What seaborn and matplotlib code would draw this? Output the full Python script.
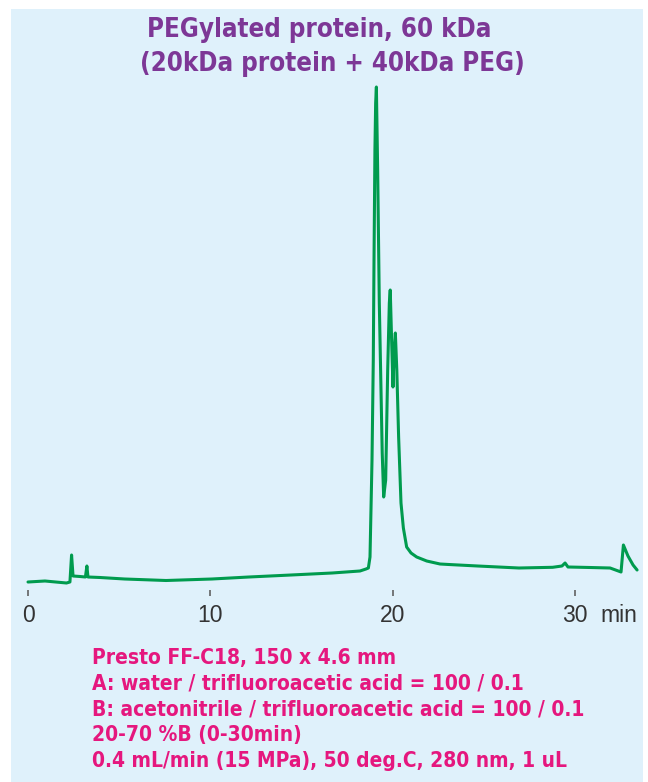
import matplotlib
matplotlib.use('Agg')
import matplotlib.pyplot as plt
import matplotlib.patches as mpatches
import pandas as pd
import seaborn as sns

# Tiempo de retencion (min) y senal del detector (unidades arbitrarias)
tiempo = [0.00, 0.93, 2.11, 2.30, 2.39, 2.47, 2.85, 3.15, 3.23, 3.29,
          3.95, 5.30, 7.57, 10.09, 12.12, 14.43, 16.68, 18.21, 18.54, 18.67,
          18.76, 18.87, 18.94, 18.98, 19.03, 19.07, 19.11, 19.18, 19.27, 19.36,
          19.43, 19.51, 19.62, 19.73, 19.82, 19.87, 19.95, 20.02, 20.08, 20.15,
          20.23, 20.33, 20.46, 20.59, 20.77, 21.01, 21.32, 21.87, 22.60, 23.08,
          24.67, 26.93, 28.78, 29.29, 29.46, 29.62, 30.83, 31.93, 32.53, 32.66,
          32.91, 33.19, 33.41]
senal = [8, 9, 7, 8, 35, 14, 13.5, 13, 24, 13,
         12.5, 11, 9.5, 11, 13, 15, 17, 19, 21, 22,
         33, 130, 230, 330, 440, 487, 503, 420, 287, 203,
         137, 93, 110, 220, 287, 300, 247, 203, 237, 257,
         220, 153, 87, 62, 43, 37, 33, 29, 26, 25.5,
         24, 22, 22.7, 24, 27, 23, 22.5, 22, 18, 45,
         34, 25, 20]

ticks_x = [0, 10, 20, 30]
titulo = ['PEGylated protein, 60 kDa', '(20kDa protein + 40kDa PEG)']
condiciones = ['Presto FF-C18, 150 x 4.6 mm',
               'A: water / trifluoroacetic acid = 100 / 0.1',
               'B: acetonitrile / trifluoroacetic acid = 100 / 0.1',
               '20-70 %B (0-30min)',
               '0.4 mL/min (15 MPa), 50 deg.C, 280 nm, 1 uL']

sns.set_theme(style='white')
plt.rcParams['font.family'] = ['Liberation Sans', 'DejaVu Sans']
fuente_cond = ['DejaVu Sans']

fig = plt.figure(figsize=(6.48, 7.82), dpi=100)
fig.patch.set_facecolor('white')
# fondo azul claro
fig.patches.append(mpatches.Rectangle((11 / 648, 0), 632 / 648, 773 / 782,
                                      transform=fig.transFigure, facecolor='#dff1fb',
                                      edgecolor='none', zorder=-5))

ax = fig.add_axes([20 / 648, 1 - 590 / 782, 622 / 648, 510 / 782])
ax.set_facecolor('none')
ax.set_zorder(2)

df = pd.DataFrame({'tiempo': tiempo, 'senal': senal})
sns.lineplot(data=df, x='tiempo', y='senal', color='#009b4e', linewidth=2.2,
             estimator=None, ax=ax)

ax.set_xlim(-0.439, 33.68)
ax.set_ylim(0, 510)
ax.set_xticks(ticks_x)
ax.set_xticklabels([str(t) for t in ticks_x])
ax.set_yticks([])
ax.set_xlabel('')
ax.set_ylabel('')
for s in ax.spines.values():
    s.set_visible(False)
ax.tick_params(axis='x', bottom=True, direction='out', length=4.3, width=1.1,
               color='#555555', pad=6, labelsize=16.5, labelcolor='#333333')

fig.text(618.7 / 648, 1 - 622 / 782, 'min', ha='center', va='baseline',
         fontsize=16.5, color='#333333')

# titulo
fig.text(319 / 648, 1 - 37 / 782, titulo[0], ha='center', va='baseline',
         fontsize=18.5, fontweight='bold', fontstretch='condensed', color='#7d3796',
         family=fuente_cond)
fig.text(332 / 648, 1 - 71 / 782, titulo[1], ha='center', va='baseline',
         fontsize=18.5, fontweight='bold', fontstretch='condensed', color='#7d3796',
         family=fuente_cond)

# condiciones
for i, linea in enumerate(condiciones):
    fig.text(92 / 648, 1 - (664 + 25.8 * i) / 782, linea, ha='left', va='baseline',
             fontsize=15, fontweight='bold', fontstretch='condensed', color='#e5177e',
             family=fuente_cond)

fig.savefig('out.png', dpi=100)
